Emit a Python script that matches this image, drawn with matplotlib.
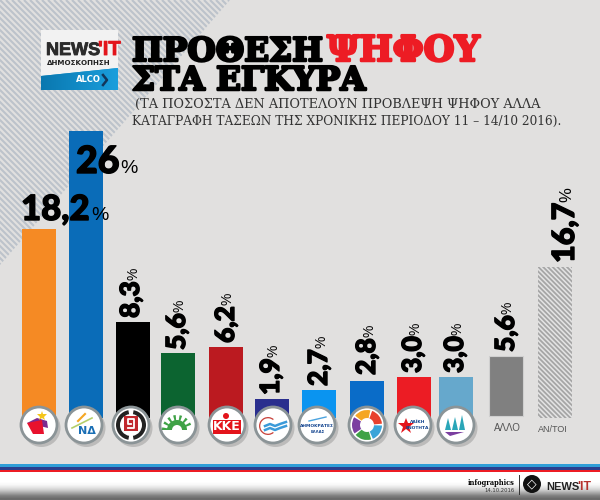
import numpy as np
import matplotlib
matplotlib.use("Agg")
import matplotlib.pyplot as plt
from matplotlib.patches import Circle, Polygon, Rectangle, Wedge
import matplotlib.patheffects as pe

labels = ["18,2", "26", "8,3", "5,6", "6,2", "1,9", "2,7", "2,8", "3,0", "3,0", "5,6", "16,7"]
# heights as drawn, the picture is not proportional to its labels
drawn = [17.2, 26.1, 8.7, 5.9, 6.45, 1.73, 2.55, 3.36, 3.73, 3.73, 5.45, 13.7]
names = ["ΑΛΛΟ", "ΑΝ/ΤΟΙ"]

colors = ["#f58a24", "#0a6cb8", "#000000", "#0c6430", "#bb1a20", "#2a2f8e",
          "#0a94f0", "#0a6cc8", "#ec1c24", "#66a8cc", "#808080", "#d8d8d8"]
centres = [39, 86, 133, 178, 226, 272, 319, 367, 414, 456, 506, 555]

BG = "#e1e0df"
NUM_FONT = "Lato"
LOGO_FONT = "Liberation Sans"
fig = plt.figure(figsize=(6, 5), dpi=100, facecolor=BG)


def px_axes(zorder):
    a = fig.add_axes([0, 0, 1, 1], zorder=zorder)
    a.set_xlim(0, 600)
    a.set_ylim(500, 0)
    a.axis("off")
    return a


back = px_axes(0)

# striped corner
corner = Polygon([(0, 0), (230, 0), (0, 265)], closed=True, facecolor="#e1e0df",
                 edgecolor="none")
back.add_patch(corner)
for s in np.arange(-300, 300, 6.0):
    ln, = back.plot([s, s + 300], [0, 300], color="#bcc3cb", lw=1.5, solid_capstyle="butt")
    ln.set_clip_path(corner)

# bars
ax = fig.add_axes([0, 82 / 500, 1, 287 / 500], zorder=1)
ax.set_xlim(0, 600)
ax.set_ylim(0, 26.1)
ax.axis("off")
ax.patch.set_alpha(0)
matplotlib.rcParams["hatch.linewidth"] = 1.3
matplotlib.rcParams["hatch.color"] = "#a6a6a6"
for i in range(12):
    if i == 11:
        ax.bar(centres[i], drawn[i], width=34, facecolor="#e4e4e4", edgecolor="#a6a6a6",
               hatch="\\" * 7, lw=0)
    elif i == 10:
        ax.bar(centres[i], drawn[i], width=34, bottom=0.18, color=colors[i],
               edgecolor="#cfcfcf", lw=0.8)
    else:
        ax.bar(centres[i], drawn[i], width=34, color=colors[i], lw=0)

top = px_axes(2)
fig.canvas.draw()
rend = fig.canvas.get_renderer()
heavy = [pe.withStroke(linewidth=1.0, foreground="black")]


def value_label(num, x, y, rot, size, pct_size):
    # number in heavy type then a thin percent sign after it
    t = top.text(x, y, num, fontsize=size, fontweight="black", family=NUM_FONT,
                 rotation=rot, color="black", path_effects=heavy,
                 ha="left" if rot == 0 else "center",
                 va="baseline" if rot == 0 else "bottom", rotation_mode="anchor" if rot == 0 else "default")
    bb = t.get_window_extent(rend)
    if rot == 0:
        top.text(x + bb.width + 1, y, "%", fontsize=pct_size, family="Liberation Sans", ha="left", va="baseline")
    else:
        top.text(x + 2, y - bb.height - 1, "%", fontsize=pct_size, family="Liberation Sans", rotation=90,
                 ha="center", va="bottom")


value_label(labels[0], 21, 220, 0, 25, 14)
value_label(labels[1], 76, 173, 0, 27, 14)
bottoms = [None, None, 318, 350, 343, 395, 386, 375, 373, 373, 352, 263]
sizes = [0, 0, 19, 19, 19, 19, 19, 19, 19, 19, 19, 22]
offsets = [0, 0, -2, -1, 0, -1, 0, 0, -1, -1, 0, 10]
for i in range(2, 12):
    value_label(labels[i], centres[i] + offsets[i], bottoms[i], 90, sizes[i], 10 if i < 11 else 12)

# party badges
badge_x = [39, 84, 131, 178, 227, 273, 317, 367, 413, 456]
badge_y = 425


def badge(x):
    top.add_patch(Circle((x + 2.5, badge_y + 3), 19, facecolor="#8f8f8f", alpha=0.45, edgecolor="none"))
    top.add_patch(Circle((x, badge_y), 18, facecolor="white", edgecolor="#8b9497", lw=2))


for bx in badge_x:
    badge(bx)

b = badge_x[0]
top.add_patch(Polygon([(b - 12, badge_y - 2), (b - 2, badge_y - 7), (b + 8, badge_y - 4), (b + 9, badge_y + 3)], facecolor="#7b2a90"))
top.add_patch(Polygon([(b - 12, badge_y - 2), (b + 3, badge_y - 5), (b + 5, badge_y + 9), (b - 6, badge_y + 9)], facecolor="#e8112d"))
top.plot(b + 3, badge_y - 9, marker="*", ms=7, color="#f5c518", mew=0)

b = badge_x[1]
top.text(b + 3, badge_y + 6, "ΝΔ", fontsize=8, fontweight="bold", color="#1a6fb5", ha="center", va="center")
top.plot([b - 12, b + 8], [badge_y + 3, badge_y - 7], color="#b5cf6b", lw=1.2)
top.plot([b - 6, b + 1], [badge_y - 4, badge_y - 11], color="#f5a623", lw=1.5)

b = badge_x[2]
top.add_patch(Wedge((b, badge_y), 15, 100, 260, width=4, facecolor="#222222"))
top.add_patch(Wedge((b, badge_y), 15, -80, 80, width=4, facecolor="#222222"))
top.add_patch(Rectangle((b - 7, badge_y - 9), 14, 15, facecolor="#c1272d"))
top.plot([b - 3, b + 3, b + 3, b - 3, b - 3, b], [badge_y + 3, badge_y + 3, badge_y - 6, badge_y - 6, badge_y - 1, badge_y - 1], color="white", lw=1.3)

b = badge_x[3]
for a in np.arange(185, 360, 25):
    top.add_patch(Wedge((b - 1, badge_y + 5), 15, a - 5, a + 5, facecolor="#3fa246"))
top.add_patch(Wedge((b - 1, badge_y + 5), 10, 180, 360, facecolor="#3fa246"))
top.add_patch(Wedge((b - 1, badge_y + 5), 5, 180, 360, facecolor="white"))

b = badge_x[4]
top.add_patch(Rectangle((b - 14, badge_y - 5), 28, 14, facecolor="#e3141b"))
top.text(b, badge_y + 2, "ΚΚΕ", fontsize=9, fontweight="bold", color="white", ha="center", va="center")
top.add_patch(Circle((b - 1, badge_y - 9), 3, facecolor="#e3141b"))

b = badge_x[5]
top.add_patch(Wedge((b - 5, badge_y + 1), 9, 50, 310, width=1.3, facecolor="#c9443d"))
wave_x = [b - 8, b - 3, b + 2, b + 7, b + 13]
top.plot(wave_x, [badge_y + 1, badge_y - 1, badge_y + 1, badge_y - 1, badge_y - 3], color="#3a9ad9", lw=1.8)
top.plot(wave_x, [badge_y + 5, badge_y + 3, badge_y + 5, badge_y + 3, badge_y + 1], color="#3a9ad9", lw=1.8)

b = badge_x[6]
top.text(b, badge_y + 1, "ΔΗΜΟΚΡΑΤΕΣ", fontsize=3.2, fontweight="bold", color="#12448f", ha="center", va="center")
top.plot([b - 8, b + 9], [badge_y - 4, badge_y - 8], color="#4aa3df", lw=1)
top.text(b + 1, badge_y + 7, "ΕΛΛΑΣ", fontsize=2.8, fontweight="bold", color="#12448f", ha="center", va="center")

b = badge_x[7]
petals = ["#e8412d", "#3aa5d8", "#3fa246", "#7b3fa0", "#f5a623"]
for k, c in enumerate(petals):
    top.add_patch(Wedge((b, badge_y), 15, 290 + k * 72, 355 + k * 72, width=8, facecolor=c))

b = badge_x[8]
top.plot(b - 7, badge_y + 1, marker="*", ms=12, color="#e3141b", mew=0)
top.text(b + 5, badge_y - 3, "ΛΑΪΚΗ", fontsize=3.2, fontweight="bold", color="#12448f", ha="center", va="center")
top.text(b + 4, badge_y + 3, "ΕΝΟΤΗΤΑ", fontsize=3.2, fontweight="bold", color="#12448f", ha="center", va="center", zorder=5)

b = badge_x[9]
for dx, h in zip([-11, -4, 3], [12, 13, 15]):
    top.add_patch(Polygon([(b + dx, badge_y + 5), (b + dx + 3, badge_y + 5 - h), (b + dx + 6, badge_y + 5)], facecolor="#2aa6b8"))
top.add_patch(Polygon([(b - 11, badge_y + 7), (b + 8, badge_y + 7), (b - 6, badge_y + 11)], facecolor="#7b3fa0"))

top.text(507, 428, names[0], fontsize=7, color="#555555", ha="center", va="center", family="Liberation Sans")
top.text(553, 430, names[1], fontsize=6.5, color="#555555", ha="center", va="center", family="Liberation Sans")

# logo
top.add_patch(Rectangle((41, 30), 77, 60, facecolor="#f2f2f2", edgecolor="none"))
blue = Polygon([(41, 76), (118, 68), (118, 90), (41, 90)], closed=True, facecolor="#0f8fc8", edgecolor="none")
top.add_patch(blue)
grad = np.linspace(0, 1, 40).reshape(1, -1)
img = top.imshow(grad, extent=(41, 118, 90, 68), cmap=matplotlib.colors.LinearSegmentedColormap.from_list("b", ["#0a78b0", "#1a9edc"]),
                 aspect="auto", zorder=2)
img.set_clip_path(blue)
top.text(46, 55, "NEWS", fontsize=13, fontweight="bold", family=LOGO_FONT, color="#2b2b2b", ha="left", va="baseline",
         path_effects=[pe.withStroke(linewidth=0.6, foreground="#2b2b2b")])
top.text(98, 55, "'IT", fontsize=14.5, fontweight="bold", family=LOGO_FONT, color="#e3141b", ha="left", va="baseline",
         path_effects=[pe.withStroke(linewidth=0.6, foreground="#e3141b")])
top.text(79, 63, "ΔΗΜΟΣΚΟΠΗΣΗ", fontsize=5.1, fontweight="bold", color="#222222", ha="center", va="center")
top.text(101, 80, "ALCO", fontsize=6, fontweight="bold", color="white", ha="right", va="center", zorder=3)
top.plot([103, 107, 103], [75, 80, 85], color="#12365a", lw=1.8, zorder=3)

# title
title_fx = [pe.withStroke(linewidth=1.8, foreground="black")]
top.text(132, 61, "ΠΡΟΘΕΣΗ", fontsize=23.5, fontweight="bold", family="DejaVu Serif", color="black", va="baseline", path_effects=title_fx)
top.text(327, 61, "ΨΗΦΟΥ", fontsize=25.5, fontweight="bold", family="DejaVu Serif", color="#ed1c24", va="baseline",
         path_effects=[pe.withStroke(linewidth=1.8, foreground="#ed1c24")])
top.text(132, 90, "ΣΤΑ ΕΓΚΥΡΑ", fontsize=23.5, fontweight="bold", family="DejaVu Serif", color="black", va="baseline", path_effects=title_fx)

top.text(135, 104, "(ΤΑ ΠΟΣΟΣΤΑ ΔΕΝ ΑΠΟΤΕΛΟΥΝ ΠΡΟΒΛΕΨΗ ΨΗΦΟΥ ΑΛΛΑ", fontsize=9.3, family="DejaVu Serif", color="#333333", va="center")
top.text(132, 121, "ΚΑΤΑΓΡΑΦΗ ΤΑΣΕΩΝ ΤΗΣ ΧΡΟΝΙΚΗΣ ΠΕΡΙΟΔΟΥ 11 – 14/10 2016).", fontsize=8.7, family="DejaVu Serif", color="#333333", va="center")

# footer
top.add_patch(Rectangle((0, 464), 600, 3, facecolor="#2f9fd8", edgecolor="none"))
top.add_patch(Rectangle((0, 467), 600, 3, facecolor="#2a3f8f", edgecolor="none"))
top.add_patch(Rectangle((0, 470), 600, 2, facecolor="#ed1c24", edgecolor="none"))
foot = np.array([1, 1, 1, 1, 0.97, 0.9, 0.8, 0.65, 0.5, 0.42]).reshape(-1, 1)
top.imshow(foot, extent=(0, 600, 500, 472), cmap="gray", vmin=0, vmax=1, aspect="auto", interpolation="bilinear")
top.text(515, 483, "infographics", fontsize=4.8, fontweight="bold", family="DejaVu Serif", color="black", ha="right", va="center")
top.text(515, 490, "14.10.2016", fontsize=3.8, color="#333333", ha="right", va="center")
top.plot([519, 519], [475, 494], color="#333333", lw=0.7)
top.add_patch(Circle((532, 484), 9, facecolor="#111111"))
top.text(532, 484, "◇", fontsize=9, color="white", ha="center", va="center")
top.text(546, 490, "NEWS", fontsize=8, fontweight="bold", family=LOGO_FONT, color="#222222", ha="left", va="baseline")
top.text(577, 490, "'IT", fontsize=8.8, fontweight="bold", family=LOGO_FONT, color="#b5322d", ha="left", va="baseline")

top.set_xlim(0, 600)
top.set_ylim(500, 0)
fig.savefig("out.png", dpi=100, facecolor=BG)
